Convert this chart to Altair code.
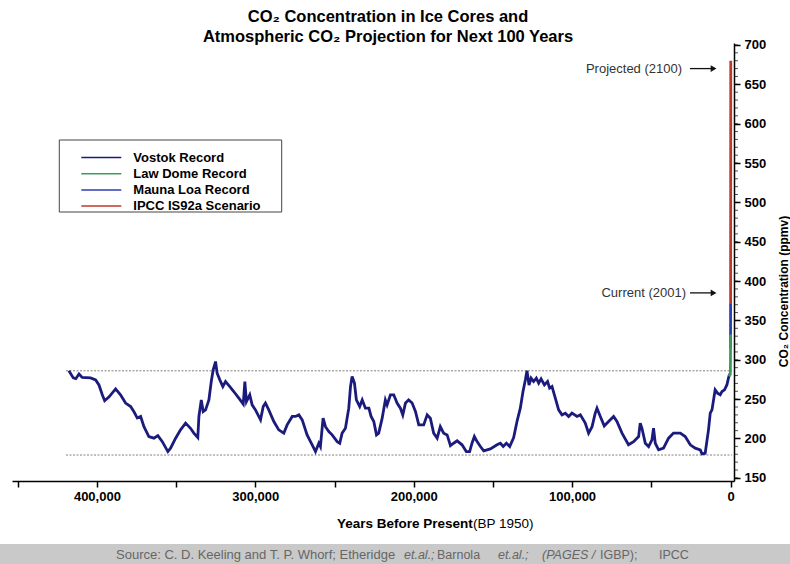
import altair as alt
import pandas as pd

# ---------------- data ----------------
title_lines = ["CO\u2082 Concentration in Ice Cores and",
               "Atmospheric CO\u2082 Projection for Next 100 Years"]
series_names = ["Vostok Record", "Law Dome Record", "Mauna Loa Record", "IPCC IS92a Scenario"]
series_colors = ["#1b1b7e", "#3d9b5c", "#2b3fb0", "#c0392b"]
draw_order = ["Vostok Record", "Mauna Loa Record", "Law Dome Record", "IPCC IS92a Scenario"]

# Vostok ice core (thousand years before present, ppmv)
vostok_kyr = [417.7, 414.9, 413.3, 411.3, 409.3, 404.0, 400.8, 398.7, 396.6, 395.1,
              392.3, 388.2, 385.1, 381.9, 378.7, 376.6, 374.5, 372.4, 370.3, 367.2,
              364.0, 361.5, 358.7, 355.2, 353.5, 350.3, 347.2, 344.0, 340.9, 338.8,
              336.3, 335.6, 334.1, 332.9, 331.4, 329.3, 327.8, 326.6, 325.1, 324.1,
              322.4, 320.5, 318.8, 316.1, 313.6, 310.4, 307.6, 306.6, 305.6, 303.5,
              302.0, 299.9, 296.7, 295.0, 293.6, 291.5, 288.3, 285.2, 282.0, 279.9,
              276.7, 274.6, 272.5, 270.4, 267.3, 264.1, 262.0, 259.9, 258.9, 257.2,
              255.7, 253.6, 251.5, 248.3, 246.7, 245.2, 243.1, 241.0, 239.9, 238.9,
              237.4, 236.2, 234.1, 232.5, 230.5, 228.3, 226.9, 225.2, 223.5, 222.1,
              219.9, 217.9, 216.8, 214.7, 212.6, 210.5, 208.4, 206.9, 205.2, 203.2,
              201.0, 198.9, 196.8, 193.7, 191.5, 189.5, 187.4, 185.2, 183.2, 181.1,
              178.9, 176.8, 174.8, 172.6, 169.5, 166.8, 164.7, 163.2, 161.7, 160.0,
              157.9, 155.8, 151.6, 147.4, 145.3, 143.5, 141.5, 139.4, 136.9, 134.8,
              132.7, 131.0, 129.5, 128.5, 127.2, 125.9, 124.3, 122.6, 121.1, 119.6,
              117.5, 115.5, 114.2, 112.7, 110.6, 108.5, 106.4, 104.3, 102.2, 100.1,
              96.9, 94.8, 91.7, 89.6, 87.4, 85.4, 84.3, 82.2, 79.7, 77.0,
              73.8, 71.7, 68.5, 64.4, 61.2, 58.0, 57.0, 55.9, 53.8, 51.7,
              49.6, 48.6, 47.5, 45.4, 42.3, 39.1, 36.0, 31.7, 28.6, 25.4,
              22.3, 19.1, 18.0, 16.0, 13.9, 12.8, 11.7, 9.7, 8.2, 6.5,
              5.4, 3.8, 2.3, 1.3, 0.6]
vostok_ppm = [286, 277, 276, 282, 277.5, 277, 274.5, 268, 255.5, 248,
              253, 263, 255.5, 245, 240.6, 234, 226, 228, 215, 202.5,
              200.4, 203.7, 196, 183.4, 187.7, 200.4, 211, 219.5, 213, 206.8,
              201.2, 228, 249, 234.3, 236.4, 249, 272.4, 287.2, 297.8, 283,
              274.5, 266, 272.4, 266, 259.7, 251.2, 243.6, 272.4, 247, 255.5,
              242.7, 236.4, 223.7, 240.6, 245, 236.4, 221.6, 211, 206.8, 217.3,
              228, 228, 230, 223.7, 204.6, 192, 183.4, 194, 189.8, 225.8,
              215, 208.8, 204.6, 196, 194, 206.8, 213, 238.5, 266, 278.7,
              270.3, 249, 240.6, 249, 238.5, 238.5, 228, 221.6, 204.6, 206.8,
              225.8, 249, 242.7, 255.5, 255.5, 245, 238.5, 230, 245, 249,
              245, 234.3, 217.3, 217.3, 230, 225.8, 206.8, 200.4, 215, 206.8,
              204.6, 191, 194, 197, 192, 183.4, 183.4, 194, 202.5, 196,
              189.8, 184.3, 186.8, 192, 194, 189.8, 194, 189.8, 201.2, 221.6,
              238.5, 259.7, 274.5, 286, 268, 276.7, 272.4, 276.7, 270.3, 275.8,
              268, 272.4, 264, 266, 251.2, 236.4, 230, 232.2, 228, 232.2,
              228, 230, 219.5, 206.8, 215, 232.2, 238.5, 228, 216, 221.6,
              228, 221.6, 206.8, 192, 196, 202.5, 219.5, 213, 194, 189.8,
              198.3, 213, 194, 185.6, 187.7, 200.4, 206.8, 206.8, 202.5, 192,
              187.7, 185.6, 180.5, 181.3, 211, 232.2, 236.4, 261.8, 257.6, 255.5,
              259.7, 261.8, 268, 276.7, 282]

lawdome_yr = [1000, 700, 400, 200, 120, 80, 40, 10, -28]
lawdome_ppm = [279, 280, 281, 280, 284, 288, 297, 310, 332]
maunaloa_yr = [-8, -18, -28, -38, -48, -51]
maunaloa_ppm = [315, 323, 335, 351, 367, 371]
ipcc_yr = [-51, -75, -100, -125, -150]
ipcc_ppm = [371, 430, 500, 585, 680]

ref_ppm = [286, 179]
ref_from_yr = 419500
ref_to_yr = -1000

ann_text = ["Projected (2100)", "Current (2001)"]
ann_text_yr = [30600, 28100]
ann_ppm = [670, 385]
arrow_from_yr = 25600
arrow_to_yr = 10700

x_tick_values = [0, 50000, 100000, 150000, 200000, 250000, 300000, 350000, 400000, 450000]
y_tick_values = [150, 200, 250, 300, 350, 400, 450, 500, 550, 600, 650, 700]
y_minor_values = list(range(150, 701, 10))

xtitle_parts = ["Years Before Present", "(BP 1950)"]
source_parts = ["Source: C. D. Keeling and T. P. Whorf; Etheridge", "et.al.;", "Barnola",
                "et.al.;", "(PAGES /", "IGBP);", "IPCC"]
source_italic = [False, True, False, True, True, False, False]

# ---------------- layout ----------------
W, H = 722, 438
FONT = "Liberation Sans"
X_DOMAIN = [453600, -2200]
Y_DOMAIN = [146, 702.5]

rows = []
for name, yrs, vals in [("Vostok Record", [k * 1000 for k in vostok_kyr], vostok_ppm),
                        ("Law Dome Record", lawdome_yr, lawdome_ppm),
                        ("Mauna Loa Record", maunaloa_yr, maunaloa_ppm),
                        ("IPCC IS92a Scenario", ipcc_yr, ipcc_ppm)]:
    for a, b in zip(yrs, vals):
        rows.append({"year": a, "co2": b, "series": name})
df = pd.DataFrame(rows)

x_axis = alt.Axis(values=x_tick_values,
                  labelExpr="datum.value % 100000 == 0 ? format(datum.value, ',') : ''",
                  title=None, grid=False, tickSize=6, tickColor="black", tickWidth=1.5,
                  domainColor="black", domainWidth=1.5, labelFont=FONT, labelFontSize=13,
                  labelFontWeight="bold", labelColor="black", labelPadding=3, labelFlush=False)
y_axis = alt.Axis(orient="right", values=y_tick_values, grid=False, tickSize=6,
                  tickColor="black", tickWidth=1.5, domainColor="black", domainWidth=1.5,
                  labelFont=FONT, labelFontSize=13, labelFontWeight="bold", labelColor="black",
                  labelPadding=4, title="CO\u2082 Concentration (ppmv)", titleFont=FONT,
                  titleFontSize=12, titleFontWeight="bold", titleColor="black",
                  titleAngle=270, titleX=49, titleY=248, titleAlign="center",
                  titleBaseline="middle")

x_scale = alt.Scale(domain=X_DOMAIN, nice=False, zero=False)
y_scale = alt.Scale(domain=Y_DOMAIN, nice=False, zero=False)
x_enc = alt.X("year:Q", scale=x_scale, axis=x_axis)
y_enc = alt.Y("co2:Q", scale=y_scale, axis=y_axis)

color = alt.Color("series:N",
                  scale=alt.Scale(domain=series_names, range=series_colors),
                  legend=alt.Legend(title=None, orient="none", legendX=82.8, legendY=108,
                                    symbolType="M-5,0L5,0", symbolSize=64,
                                    symbolStrokeWidth=1.5, labelFont=FONT, labelFontSize=13,
                                    labelFontWeight="bold", labelColor="black",
                                    labelOffset=25.5, rowPadding=2.2, padding=0))

# legend frame
legend_box = alt.Chart(pd.DataFrame({"a": [0]})).mark_rect(
    fill="white", stroke="#444444", strokeWidth=1
).encode(x=alt.value(47.3), x2=alt.value(269.7), y=alt.value(97), y2=alt.value(169))

ref_df = pd.DataFrame({"co2": ref_ppm, "year": [ref_from_yr] * 2, "year2": [ref_to_yr] * 2})
ref_lines = alt.Chart(ref_df).mark_rule(color="#808080", strokeWidth=1, strokeDash=[2, 1.5]).encode(
    x=x_enc, x2="year2:Q", y=y_enc)

base = alt.Chart(df).mark_line(strokeWidth=2.8).encode(x=x_enc, y=y_enc, color=color)
line_layers = [base.transform_filter(alt.datum.series == s) for s in draw_order]

ann_df = pd.DataFrame({"year": ann_text_yr, "co2": ann_ppm, "label": ann_text,
                       "afrom": [arrow_from_yr] * 2, "ato": [arrow_to_yr] * 2})
ann_text_layer = alt.Chart(ann_df).mark_text(
    align="right", baseline="middle", font=FONT, fontSize=13, color="#333333"
).encode(x=x_enc, y=y_enc, text="label:N")
arrow_shaft = alt.Chart(ann_df).mark_rule(color="#111111", strokeWidth=1.3).encode(
    x=alt.X("afrom:Q", scale=x_scale, axis=x_axis), x2="ato:Q", y=y_enc)
arrow_head = alt.Chart(ann_df).mark_point(shape="triangle-right", filled=True, size=45,
                                          color="#111111", opacity=1).encode(
    x=alt.X("ato:Q", scale=x_scale, axis=x_axis), y=y_enc)

minor_ticks = alt.Chart(pd.DataFrame({"co2": y_minor_values})).mark_tick(
    orient="horizontal", size=4, thickness=1, color="black"
).encode(y=y_enc, x=alt.value(W + 2))

xtitle = alt.Chart(pd.DataFrame({"t": xtitle_parts[:1]})).mark_text(
    align="left", baseline="middle", font=FONT, fontSize=13.5, fontWeight="bold", color="black"
).encode(x=alt.value(325), y=alt.value(481), text="t:N")
xtitle2 = alt.Chart(pd.DataFrame({"t": xtitle_parts[1:]})).mark_text(
    align="left", baseline="middle", font=FONT, fontSize=13.5, color="black"
).encode(x=alt.value(461), y=alt.value(481), text="t:N")

band = alt.Chart(pd.DataFrame({"a": [0]})).mark_rect(fill="#c9c9c9").encode(
    x=alt.value(-12), x2=alt.value(778), y=alt.value(501), y2=alt.value(521))

source_x = [104, 392, 425, 486, 530, 588, 647]
source_size = [13, 12.5, 12.5, 12.5, 12.5, 12.5, 12.5]
source_layers = []
for txt, xx, it, fs in zip(source_parts, source_x, source_italic, source_size):
    kw = dict(align="left", baseline="middle", font=FONT, fontSize=fs, color="#666666")
    if it:
        kw["fontStyle"] = "italic"
    source_layers.append(
        alt.Chart(pd.DataFrame({"t": [txt]})).mark_text(**kw).encode(
            x=alt.value(xx), y=alt.value(512), text="t:N"))

chart = alt.layer(
    band, legend_box, ref_lines, *line_layers, ann_text_layer, arrow_shaft, arrow_head,
    minor_ticks, xtitle, xtitle2, *source_layers
).properties(
    width=W, height=H,
    title=alt.TitleParams(text=title_lines, font=FONT, fontSize=16.5, fontWeight="bold",
                          anchor="middle", dx=15, lineHeight=20, baseline="middle",
                          offset=-15, color="black"),
    autosize=alt.AutoSizeParams(type="none"),
    padding={"left": 12, "top": 43, "right": 56, "bottom": 83},
    background="white",
).configure_view(stroke=None)

chart.save("out.html", embed_options={"renderer": "svg", "actions": False})
